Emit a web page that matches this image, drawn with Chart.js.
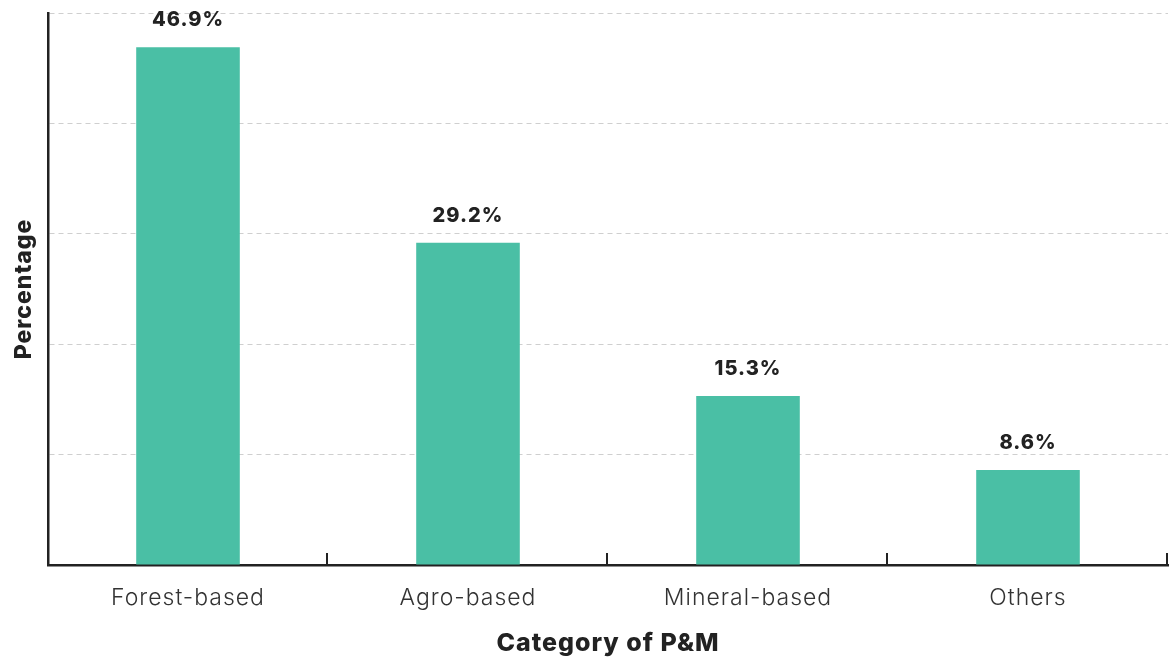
<!DOCTYPE html>
<html>
<head>
<meta charset="utf-8">
<script src="https://cdn.jsdelivr.net/npm/chart.js@4"></script>
<style>
  html, body { margin: 0; padding: 0; background: #fff; }
  #wrap { width: 1169px; height: 658px; }
</style>
</head>
<body>
<div id="wrap"><canvas id="chart"></canvas></div>
<script>
const categories = ['Forest-based', 'Agro-based', 'Mineral-based', 'Others']
const shares = [46.9, 29.2, 15.3, 8.6]
const yTicks = [0, 10, 20, 30, 40, 50]

const ink = '#222222', barColor = '#4ABFA5', gridColor = '#cfcfcf'
const font = 'Inter, "Open Sans", sans-serif'

// a bit of tracking on every label, Inter runs narrow otherwise
const tracking = {
  id: 'tracking',
  beforeDraw: (chart) => { chart.ctx.letterSpacing = '1px' }
}

// value labels above each bar
const valueLabels = {
  id: 'valueLabels',
  afterDatasetsDraw: (chart) => {
    const ctx = chart.ctx
    const meta = chart.getDatasetMeta(0)
    ctx.save()
    ctx.fillStyle = ink
    ctx.font = `800 20px ${font}`
    ctx.textAlign = 'center'
    ctx.textBaseline = 'middle'
    meta.data.forEach((bar, i) => {
      ctx.fillText(shares[i].toFixed(1) + '%', bar.x, bar.y - 27)
    })
    ctx.restore()
  }
}

// short tick marks between categories, pointing up into the plot
const innerTicks = {
  id: 'innerTicks',
  afterDraw: (chart) => {
    const x = chart.scales.x, ctx = chart.ctx
    const step = x.width / categories.length
    ctx.save()
    ctx.strokeStyle = ink
    ctx.lineWidth = 2
    ctx.beginPath()
    for (let i = 1; i <= categories.length; i++) {
      const px = Math.round(x.left + i * step) - 1
      ctx.moveTo(px, x.top)
      ctx.lineTo(px, x.top - 12)
    }
    ctx.stroke()
    ctx.restore()
  }
}

new Chart(document.getElementById('chart'), {
  type: 'bar',
  data: {
    labels: categories,
    datasets: [{
      data: shares,
      backgroundColor: barColor,
      barPercentage: 0.37,
      categoryPercentage: 1,
    }]
  },
  options: {
    responsive: true,
    maintainAspectRatio: false,
    animation: false,
    layout: { padding: { top: 13, right: 1, left: 0, bottom: 0 } },
    plugins: {
      legend: { display: false },
      tooltip: { enabled: false },
    },
    scales: {
      x: {
        grid: { display: false },
        border: { display: true, color: ink, width: 2.5 },
        ticks: { color: '#333', font: { family: font, size: 23, weight: 300 }, padding: 11 },
        title: {
          display: true,
          text: 'Category of P&M',
          color: ink,
          font: { family: font, size: 25, weight: 800 },
          padding: { top: 18, bottom: 0 },
        },
        afterFit: (s) => { s.height = 93 },
      },
      y: {
        min: 0,
        max: 50,
        afterBuildTicks: (s) => { s.ticks = yTicks.map(v => ({ value: v })) },
        ticks: { display: false },
        grid: { color: gridColor, lineWidth: 1, drawTicks: false },
        border: { display: true, color: ink, width: 2.5, dash: [5, 4] },
        title: {
          display: true,
          text: 'Percentage',
          color: ink,
          font: { family: font, size: 23, weight: 800 },
          padding: { top: 10, bottom: 0 },
        },
        afterFit: (s) => { s.width = 48 },
      }
    }
  },
  plugins: [tracking, valueLabels, innerTicks]
})
</script>
</body>
</html>
